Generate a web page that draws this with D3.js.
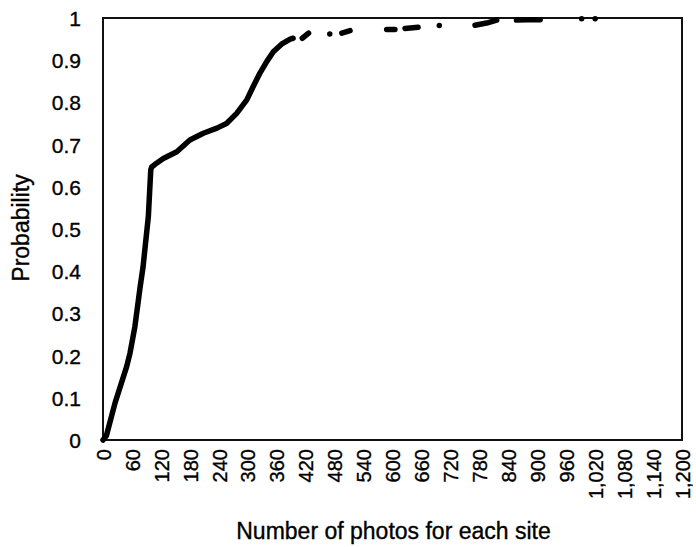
<!DOCTYPE html>
<html>
<head>
<meta charset="utf-8">
<script src="https://cdn.jsdelivr.net/npm/d3@7"></script>
<style>
  html, body { margin: 0; padding: 0; background: #fff; }
  svg text { font-family: "Liberation Sans", Arial, Helvetica, sans-serif; fill: #000; stroke: #000; stroke-width: 0.35px; }
</style>
</head>
<body>
<svg id="chart" width="696" height="547"></svg>
<script>
// Cumulative probability of the number of photos per site
const xTicks = d3.range(0, 1201, 60);
const yTicks = [0, 0.1, 0.2, 0.3, 0.4, 0.5, 0.6, 0.7, 0.8, 0.9, 1];

// dense part of the curve
const curvePhotos = [0, 7, 25, 49, 56, 66, 77, 83, 94, 99, 101, 111, 125, 153, 180, 208, 236, 256, 277, 298, 311, 325, 339, 353, 370, 388, 394];
const curveProb   = [0, 0.01, 0.088, 0.174, 0.206, 0.268, 0.363, 0.41, 0.53, 0.64, 0.647, 0.656, 0.667, 0.683, 0.711, 0.727, 0.739, 0.75, 0.774, 0.806, 0.837, 0.869, 0.896, 0.92, 0.938, 0.95, 0.952];

// sparse tail: short runs of nearby sites
const tailPhotos = [[413, 426], [470, 470], [495, 512], [588, 605], [626, 653], [697, 697], [771, 795, 816], [857, 880, 906], [992, 992], [1020, 1020]];
const tailProb   = [[0.952, 0.964], [0.962, 0.962], [0.964, 0.970], [0.973, 0.973], [0.975, 0.978], [0.982, 0.982], [0.983, 0.988, 0.995], [0.995, 0.996, 0.996], [0.998, 0.998], [0.998, 0.998]];

const svg = d3.select("#chart");
const m = { left: 103, right: 682, top: 18, bottom: 440 };

const x = d3.scaleLinear().domain([0, 1200]).range([m.left, m.right]);
const y = d3.scaleLinear().domain([0, 1]).range([m.bottom, m.top]);

// plot frame
svg.append("rect")
  .attr("x", m.left).attr("y", m.top)
  .attr("width", m.right - m.left).attr("height", m.bottom - m.top)
  .attr("fill", "none").attr("stroke", "#111").attr("stroke-width", 2);

// y axis labels
const yAxis = d3.axisLeft(y).tickValues(yTicks).tickSize(0).tickPadding(22)
  .tickFormat(d => d === 0 || d === 1 ? String(d) : d3.format(".1f")(d));
const gy = svg.append("g").attr("transform", `translate(${m.left},0)`).call(yAxis);
gy.select(".domain").remove();
gy.selectAll("text").style("font-size", "21px").attr("dy", "0.36em");

// x axis labels, rotated
const xAxis = d3.axisBottom(x).tickValues(xTicks).tickSize(0).tickFormat(d3.format(","));
const gx = svg.append("g").attr("transform", `translate(0,${m.bottom})`).call(xAxis);
gx.select(".domain").remove();
gx.selectAll("text")
  .style("font-size", "20px")
  .attr("text-anchor", "end")
  .attr("transform", "rotate(-90)")
  .attr("x", -9)
  .attr("y", 0)
  .attr("dy", "0.36em");

// axis titles
svg.append("text")
  .attr("x", (m.left + m.right) / 2 + 1).attr("y", 539)
  .attr("text-anchor", "middle").style("font-size", "23px")
  .text("Number of photos for each site");

svg.append("text")
  .attr("transform", "translate(29,228) rotate(-90)")
  .attr("text-anchor", "middle").style("font-size", "23px")
  .text("Probability");

// curve
const line = d3.line().x(d => x(d[0])).y(d => y(d[1]));
const runs = [d3.zip(curvePhotos, curveProb)]
  .concat(tailPhotos.map((xs, i) => d3.zip(xs, tailProb[i])));

svg.append("g").selectAll("path").data(runs).join("path")
  .attr("d", line)
  .attr("fill", "none")
  .attr("stroke", "#000")
  .attr("stroke-width", 5.5)
  .attr("stroke-linecap", "round")
  .attr("stroke-linejoin", "round");
</script>
</body>
</html>
